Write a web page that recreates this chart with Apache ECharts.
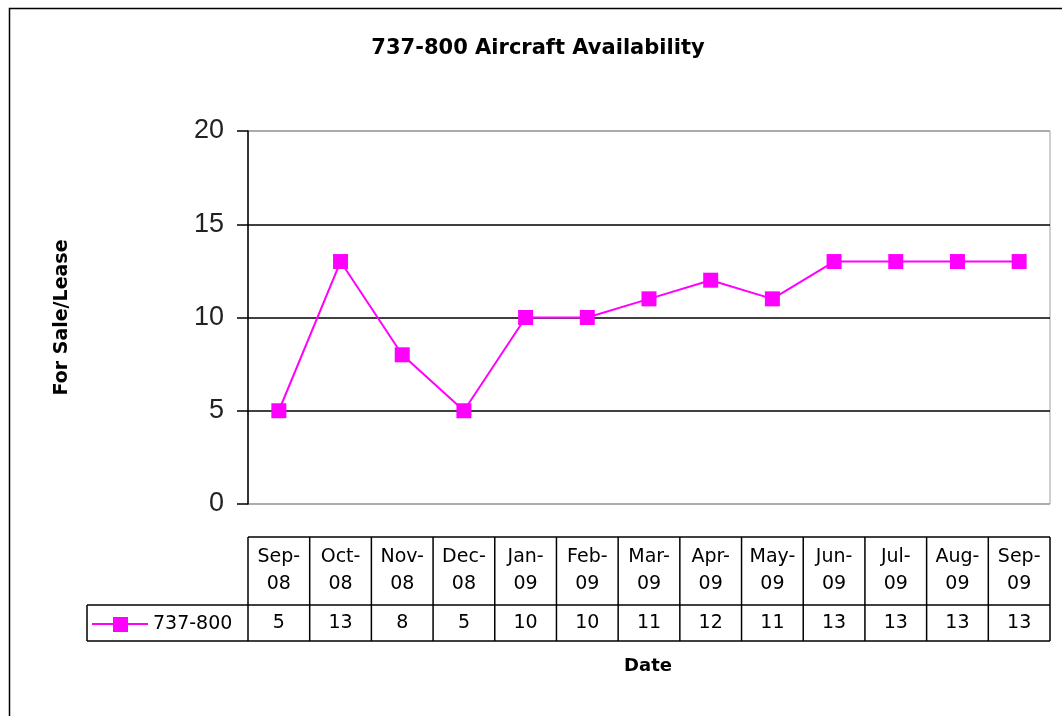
<!DOCTYPE html>
<html><head><meta charset="utf-8">
<script src="https://cdn.jsdelivr.net/npm/echarts@6/dist/echarts.min.js"></script>
<style>html,body{margin:0;padding:0;background:#fff}#c{width:1062px;height:716px}</style>
</head><body><div id="c"></div>
<script>
const categories = ['Sep-08','Oct-08','Nov-08','Dec-08','Jan-09','Feb-09','Mar-09','Apr-09','May-09','Jun-09','Jul-09','Aug-09','Sep-09'];
const values737 = [5,13,8,5,10,10,11,12,11,13,13,13,13];
const seriesName = '737-800';
const yTicks = [0,5,10,15,20];

const FONT = '"Liberation Sans", Arial, sans-serif';
const WIDE = '"DejaVu Sans", Verdana, sans-serif';
const MAG = '#FF00FF';
const chart = echarts.init(document.getElementById('c'), null, {renderer:'canvas'});
const grid = {left:248, right:12, top:131, bottom:212};
chart.setOption({
  animation:false,
  backgroundColor:'#fff',
  title:{text:'737-800 Aircraft Availability', left:533, top:33, textAlign:'center',
    textStyle:{fontFamily:WIDE, fontSize:21, fontWeight:'bold', color:'#000'}},
  grid:Object.assign({show:true, borderColor:'#a0a0a0', borderWidth:1}, grid),
  xAxis:{type:'category', data:categories, boundaryGap:true,
    axisLine:{show:false}, axisTick:{show:false}, axisLabel:{show:false}},
  yAxis:{type:'value', min:yTicks[0], max:yTicks[yTicks.length-1], interval:5,
    name:'For Sale/Lease', nameLocation:'middle', nameGap:176, nameRotate:90,
    nameTextStyle:{fontFamily:WIDE, fontSize:19, fontWeight:'bold', color:'#000'},
    axisLine:{show:true, lineStyle:{color:'#000', width:1.5}},
    axisTick:{show:true, inside:false, length:11, lineStyle:{color:'#000', width:1.5}},
    axisLabel:{fontFamily:FONT, fontSize:27, color:'#222', margin:24},
    splitLine:{show:true, lineStyle:{color:['#a0a0a0','#000','#000','#000','#a0a0a0'], width:1.5}}},
  series:[{name:seriesName, type:'line', data:values737, symbol:'rect', symbolSize:15,
    lineStyle:{color:MAG, width:2}, itemStyle:{color:MAG}}]
});

// Build the data table below the plot using the axis scale
const centers = categories.map(c => chart.convertToPixel({xAxisIndex:0}, c));
const bw = centers.length > 1 ? centers[1]-centers[0] : 60;
const yHeadTop = 537, yHeadBot = 605, yValBot = 641, legLeft = 87;
const g = [];
const lineStyle = {stroke:'#000', lineWidth:1.5};
const firstL = centers[0]-bw/2, lastR = centers[centers.length-1]+bw/2;
const TF = '19px '+WIDE;
g.push({type:'line', shape:{x1:firstL,y1:yHeadTop,x2:lastR,y2:yHeadTop}, style:lineStyle});
g.push({type:'line', shape:{x1:legLeft,y1:yHeadBot,x2:lastR,y2:yHeadBot}, style:lineStyle});
g.push({type:'line', shape:{x1:legLeft,y1:yValBot,x2:lastR,y2:yValBot}, style:lineStyle});
g.push({type:'line', shape:{x1:legLeft,y1:yHeadBot,x2:legLeft,y2:yValBot}, style:lineStyle});
for (let i=0;i<=centers.length;i++){
  const x = (i<centers.length? centers[i]-bw/2 : lastR);
  g.push({type:'line', shape:{x1:x,y1:yHeadTop,x2:x,y2:yValBot}, style:lineStyle});
}
categories.forEach((c,i)=>{
  const parts = c.split('-');
  g.push({type:'text', x:centers[i], y:557, style:{text:parts[0]+'-', fill:'#000', font:TF, textAlign:'center', textVerticalAlign:'middle'}});
  g.push({type:'text', x:centers[i], y:584, style:{text:parts[1], fill:'#000', font:TF, textAlign:'center', textVerticalAlign:'middle'}});
  g.push({type:'text', x:centers[i], y:623, style:{text:String(values737[i]), fill:'#000', font:TF, textAlign:'center', textVerticalAlign:'middle'}});
});
// legend key
g.push({type:'line', shape:{x1:92,y1:624,x2:148,y2:624}, style:{stroke:MAG, lineWidth:2}});
g.push({type:'rect', shape:{x:113,y:617,width:15,height:15}, style:{fill:MAG}});
g.push({type:'text', x:153, y:624, style:{text:seriesName, fill:'#000', font:TF, textAlign:'left', textVerticalAlign:'middle'}});
// x axis title
g.push({type:'text', x:648, y:666, style:{text:'Date', fill:'#000', font:'bold 18px '+WIDE, textAlign:'center', textVerticalAlign:'middle'}});
// outer frame
g.push({type:'rect', shape:{x:9.5,y:8.5,width:1100,height:800}, style:{fill:null, stroke:'#000', lineWidth:1.5}, z:-1});
chart.setOption({graphic:g});
</script></body></html>
